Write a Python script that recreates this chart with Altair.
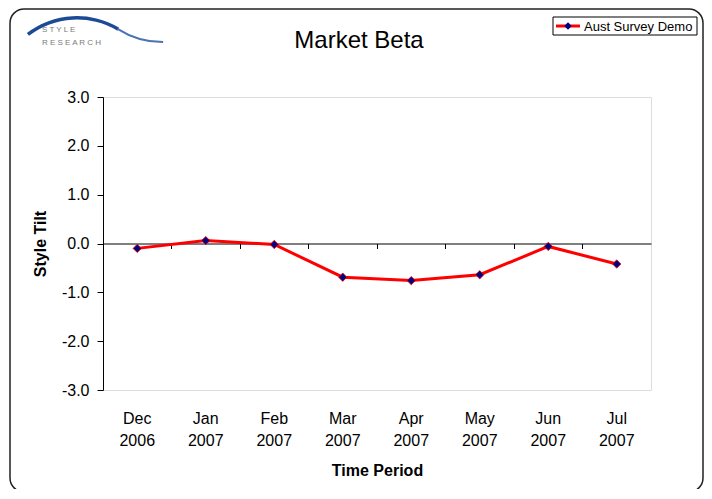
import altair as alt
import pandas as pd

periods = ["Dec 2006", "Jan 2007", "Feb 2007", "Mar 2007", "Apr 2007", "May 2007", "Jun 2007", "Jul 2007"]
tilt = [-0.10, 0.06, -0.02, -0.69, -0.76, -0.64, -0.06, -0.42]
series_name = "Aust Survey Demo"
y_ticks = [-3, -2, -1, 0, 1, 2, 3]

df = pd.DataFrame({"period": periods, "tilt": tilt})

W, H = 548, 293
FONT = "Liberation Sans"

xscale = alt.Scale(type="band", paddingInner=0, paddingOuter=0, domain=periods)
yscale = alt.Scale(domain=[-3, 3], nice=False)

x_labels = alt.X(
    "period:N", scale=xscale, sort=periods,
    axis=alt.Axis(
        title="Time Period", orient="bottom", labelAngle=0,
        labelExpr="split(datum.label, ' ')", labelLineHeight=22,
        labelPadding=20, ticks=False, domain=False, labelFontSize=16,
        labelFont=FONT, labelColor="black", titleFont=FONT, titleFontSize=16,
        titleFontWeight="bold", titleColor="black", titlePadding=14,
    ),
)
y_axis = alt.Y(
    "tilt:Q", scale=yscale,
    axis=alt.Axis(
        title="Style Tilt", values=y_ticks, grid=False,
        labelExpr="(datum.value < 0 ? '-' : '') + format(abs(datum.value), '.1f')",
        domainColor="black", tickColor="black", tickSize=6, labelPadding=8,
        labelFontSize=16, labelFont=FONT, labelColor="black", titleFont=FONT,
        titleFontSize=16, titleFontWeight="bold", titleColor="black", titlePadding=13,
    ),
)

base = alt.Chart(df)

line = base.mark_line(color="#ff0000", strokeWidth=3).encode(x=x_labels, y=y_axis)

zero_axis = base.mark_point(opacity=0).encode(
    x=alt.X(
        "period:N", scale=xscale, sort=periods,
        axis=alt.Axis(
            title=None, orient="bottom", offset=-146.5, labels=False, grid=False,
            bandPosition=0, ticks=True, tickSize=5, tickColor="black",
            domainColor="black", domainWidth=1,
        ),
    ),
    y=y_axis,
)

points = base.mark_point(
    shape="diamond", filled=True, size=70, color="#000080",
    stroke="#ff0000", strokeWidth=0.8, opacity=1,
).encode(
    x=alt.X("period:N", scale=xscale, sort=periods, axis=None),
    y=y_axis,
)

one = alt.Chart(pd.DataFrame({"label": [series_name]}))

border = one.mark_rect(
    fill=None, stroke="#222222", strokeWidth=1.5, cornerRadius=14
).encode(x=alt.value(-93), x2=alt.value(600), y=alt.value(-88), y2=alt.value(395))

leg_box = one.mark_rect(fill="white", stroke="black", strokeWidth=1).encode(
    x=alt.value(450), x2=alt.value(594), y=alt.value(-80), y2=alt.value(-62)
)
leg_line = one.mark_rule(color="#ff0000", strokeWidth=3).encode(
    x=alt.value(453), x2=alt.value(477), y=alt.value(-71)
)
leg_pt = one.mark_point(
    shape="diamond", filled=True, size=55, color="#000080", opacity=1
).encode(x=alt.value(465), y=alt.value(-71))
leg_text = one.mark_text(
    align="left", baseline="middle", fontSize=13, font=FONT, color="black"
).encode(x=alt.value(481), y=alt.value(-70.5), text="label:N")

logo_arc1 = one.mark_arc(
    theta=5.63, theta2=6.82, radius=79, radius2=82.5, color="#1d4a94"
).encode(x=alt.value(-26), y=alt.value(1.6))
logo_arc2 = one.mark_arc(
    theta=3.14, theta2=3.71, radius=83.5, radius2=85.5, color="#4a73b0"
).encode(x=alt.value(60), y=alt.value(-139.4))
logo_t1 = one.mark_text(
    align="left", baseline="middle", fontSize=8, font=FONT, color="#7a7a7a", text="S T Y L E"
).encode(x=alt.value(-61), y=alt.value(-67))
logo_t2 = one.mark_text(
    align="left", baseline="middle", fontSize=8, font=FONT, color="#7a7a7a", text="R E S E A R C H"
).encode(x=alt.value(-61), y=alt.value(-54))

chart = alt.layer(
    line, zero_axis, points, border, leg_box, leg_line, leg_pt, leg_text,
    logo_arc1, logo_arc2, logo_t1, logo_t2,
).resolve_axis(x="independent").properties(
    width=W, height=H,
    autosize=alt.AutoSizeParams(type="none"),
    padding={"left": 95, "top": 89, "right": 53, "bottom": 99},
    title=alt.TitleParams(
        "Market Beta", font="Liberation Sans Narrow, Liberation Sans", fontSize=24,
        fontWeight="normal", color="black", anchor="middle", dx=-18, offset=-64,
        baseline="alphabetic",
    ),
).configure_view(stroke="#808080", strokeWidth=1).configure(background="white")

chart.save("out.html", embed_options={"renderer": "svg", "actions": False})
